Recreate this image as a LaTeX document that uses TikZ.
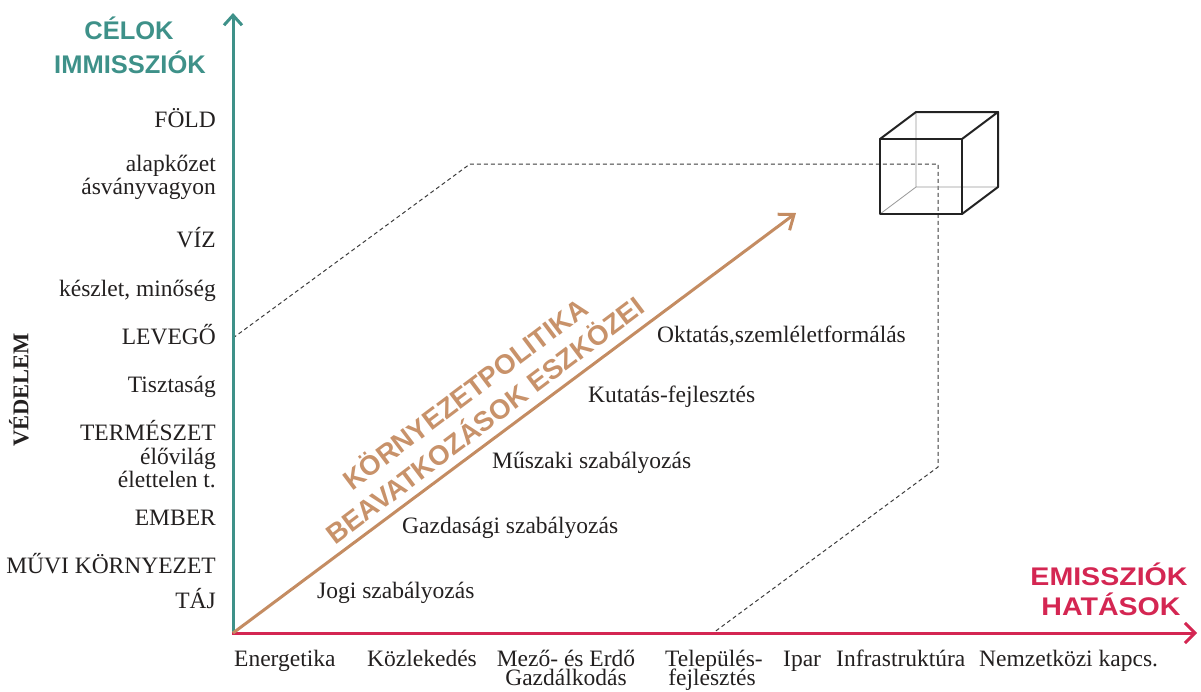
\documentclass[tikz,border=0pt]{standalone}
\usepackage{fontspec}
\setmainfont{Liberation Serif}
\newfontfamily\headfont{Liberation Sans}
\newfontfamily\headwide[FakeStretch=1.12]{Liberation Sans}
\usetikzlibrary{arrows.meta}

\definecolor{tealaxis}{RGB}{62,145,137}
\definecolor{crimsonaxis}{RGB}{212,38,82}
\definecolor{brownarrow}{RGB}{196,140,98}
\definecolor{browntext}{RGB}{200,146,106}
\definecolor{labeltext}{RGB}{35,32,32}
\definecolor{guidegray}{RGB}{60,60,60}
\definecolor{cubedark}{RGB}{35,35,35}
\definecolor{cubelight}{RGB}{150,150,150}

\tikzset{
  lab/.style={font=\fontsize{23.5}{26}\selectfont, text=labeltext, inner sep=0pt},
  ylab/.style={lab, anchor=base east},
  xlab/.style={lab, anchor=base west},
  xlabc/.style={lab, anchor=base},
  toollab/.style={lab, anchor=base west},
  axtitle/.style={font=\headfont\bfseries\fontsize{25.5}{30}\selectfont, inner sep=0pt, anchor=base},
  axtitlewide/.style={font=\headwide\bfseries\fontsize{25.5}{30}\selectfont, inner sep=0pt, anchor=base},
  slanttitle/.style={font=\headfont\bfseries\fontsize{27.5}{33}\selectfont, text=browntext, rotate=37, inner sep=0pt, align=center},
  guide/.style={draw=guidegray, line width=1pt, dash pattern=on 4pt off 3pt},
  edgefront/.style={draw=cubedark, line width=2pt, line join=round, line cap=round},
  edgeback/.style={draw=cubelight, line width=0.8pt},
}

\begin{document}
\begin{tikzpicture}[x=1pt,y=-1pt]
\useasboundingbox (0,0) rectangle (1201,691);

% axes
\coordinate (O) at (233,633);
\coordinate (ytip) at (233,13);
\coordinate (xtip) at (1197,633);
\coordinate (ztip) at (796,213);

% dashed guide frame
\coordinate (g1) at (233,338);
\coordinate (g2) at (470,164);
\coordinate (g3) at (938,164);
\coordinate (g4) at (938,467);
\coordinate (g5) at (713,633);
\draw[guide] (g1) -- (g2) -- (g3) -- (g4) -- (g5);

% cube
\coordinate (fbl) at (880,214);
\coordinate (fbr) at (962,214);
\coordinate (ftl) at (880,139);
\coordinate (ftr) at (962,139);
\coordinate (bbl) at (916,187);
\coordinate (bbr) at (998,187);
\coordinate (btl) at (916,112);
\coordinate (btr) at (998,112);
\draw[edgeback] (bbl) -- (btl) (bbl) -- (bbr) (bbl) -- (fbl);
\draw[edgefront] (fbl) -- (fbr) -- (ftr) -- (ftl) -- cycle;
\draw[edgefront] (ftl) -- (btl) -- (btr) -- (ftr);
\draw[edgefront] (btr) -- (bbr) -- (fbr);

% axis arrows
\draw[tealaxis, line width=3pt, -{Straight Barb[length=10pt,width=18pt,line width=3pt]}] (O) -- (ytip);
\draw[crimsonaxis, line width=3pt, -{Straight Barb[length=10pt,width=20pt,line width=3pt]}] ([xshift=-1.5pt]O) -- (xtip);
\draw[brownarrow, line width=3pt, -{Straight Barb[length=13pt,width=20pt,line width=3pt]}] (O) -- (ztip);

% axis titles
\node[axtitle, text=tealaxis] (t1) at (129,39) {CÉLOK};
\node[axtitle, text=tealaxis] (t2) at (130,73) {IMMISSZIÓK};
\node[axtitlewide, text=crimsonaxis] (t3) at (1109,585) {EMISSZIÓK};
\node[axtitlewide, text=crimsonaxis] (t4) at (1111,615) {HATÁSOK};
\node[font=\bfseries\fontsize{22.5}{26}\selectfont, text=labeltext, rotate=90, inner sep=0pt] (vedelem) at (19,390) {VÉDELEM};

% vertical axis labels
\node[ylab] (y1) at (216,127) {FÖLD};
\node[ylab] (y2) at (216,171) {alapkőzet};
\node[ylab] (y3) at (216,194) {ásványvagyon};
\node[ylab] (y4) at (216,247) {VÍZ};
\node[ylab] (y5) at (216,296) {készlet, minőség};
\node[ylab] (y6) at (216,344) {LEVEGŐ};
\node[ylab] (y7) at (216,392) {Tisztaság};
\node[ylab] (y8) at (216,440) {TERMÉSZET};
\node[ylab] (y9) at (216,464) {élővilág};
\node[ylab] (y10) at (216,487) {élettelen t.};
\node[ylab] (y11) at (216,525) {EMBER};
\node[ylab] (y12) at (216,573) {MŰVI KÖRNYEZET};
\node[ylab] (y13) at (216,608) {TÁJ};

% horizontal axis labels
\node[xlab] (x1) at (234,666) {Energetika};
\node[xlab] (x2) at (367,666) {Közlekedés};
\node[xlabc] (x3a) at (566,666) {Mező- és Erdő};
\node[xlabc] (x3b) at (566,685) {Gazdálkodás};
\node[xlabc] (x4a) at (714,666) {Település-};
\node[xlabc] (x4b) at (712,685) {fejlesztés};
\node[xlab] (x5) at (783,666) {Ipar};
\node[xlab] (x6) at (836,666) {Infrastruktúra};
\node[xlab] (x7) at (979,666) {Nemzetközi kapcs.};

% policy instruments
\node[toollab] (p1) at (317,598) {Jogi szabályozás};
\node[toollab] (p2) at (402,533) {Gazdasági szabályozás};
\node[toollab] (p3) at (492,468) {Műszaki szabályozás};
\node[toollab] (p4) at (588,402) {Kutatás-fejlesztés};
\node[toollab] (p5) at (657,342) {Oktatás,szemléletformálás};

% slanted title along the instrument arrow
\node[slanttitle] (slant) at (474,406) {KÖRNYEZETPOLITIKA\\BEAVATKOZÁSOK ESZKÖZEI};
\end{tikzpicture}
\end{document}
